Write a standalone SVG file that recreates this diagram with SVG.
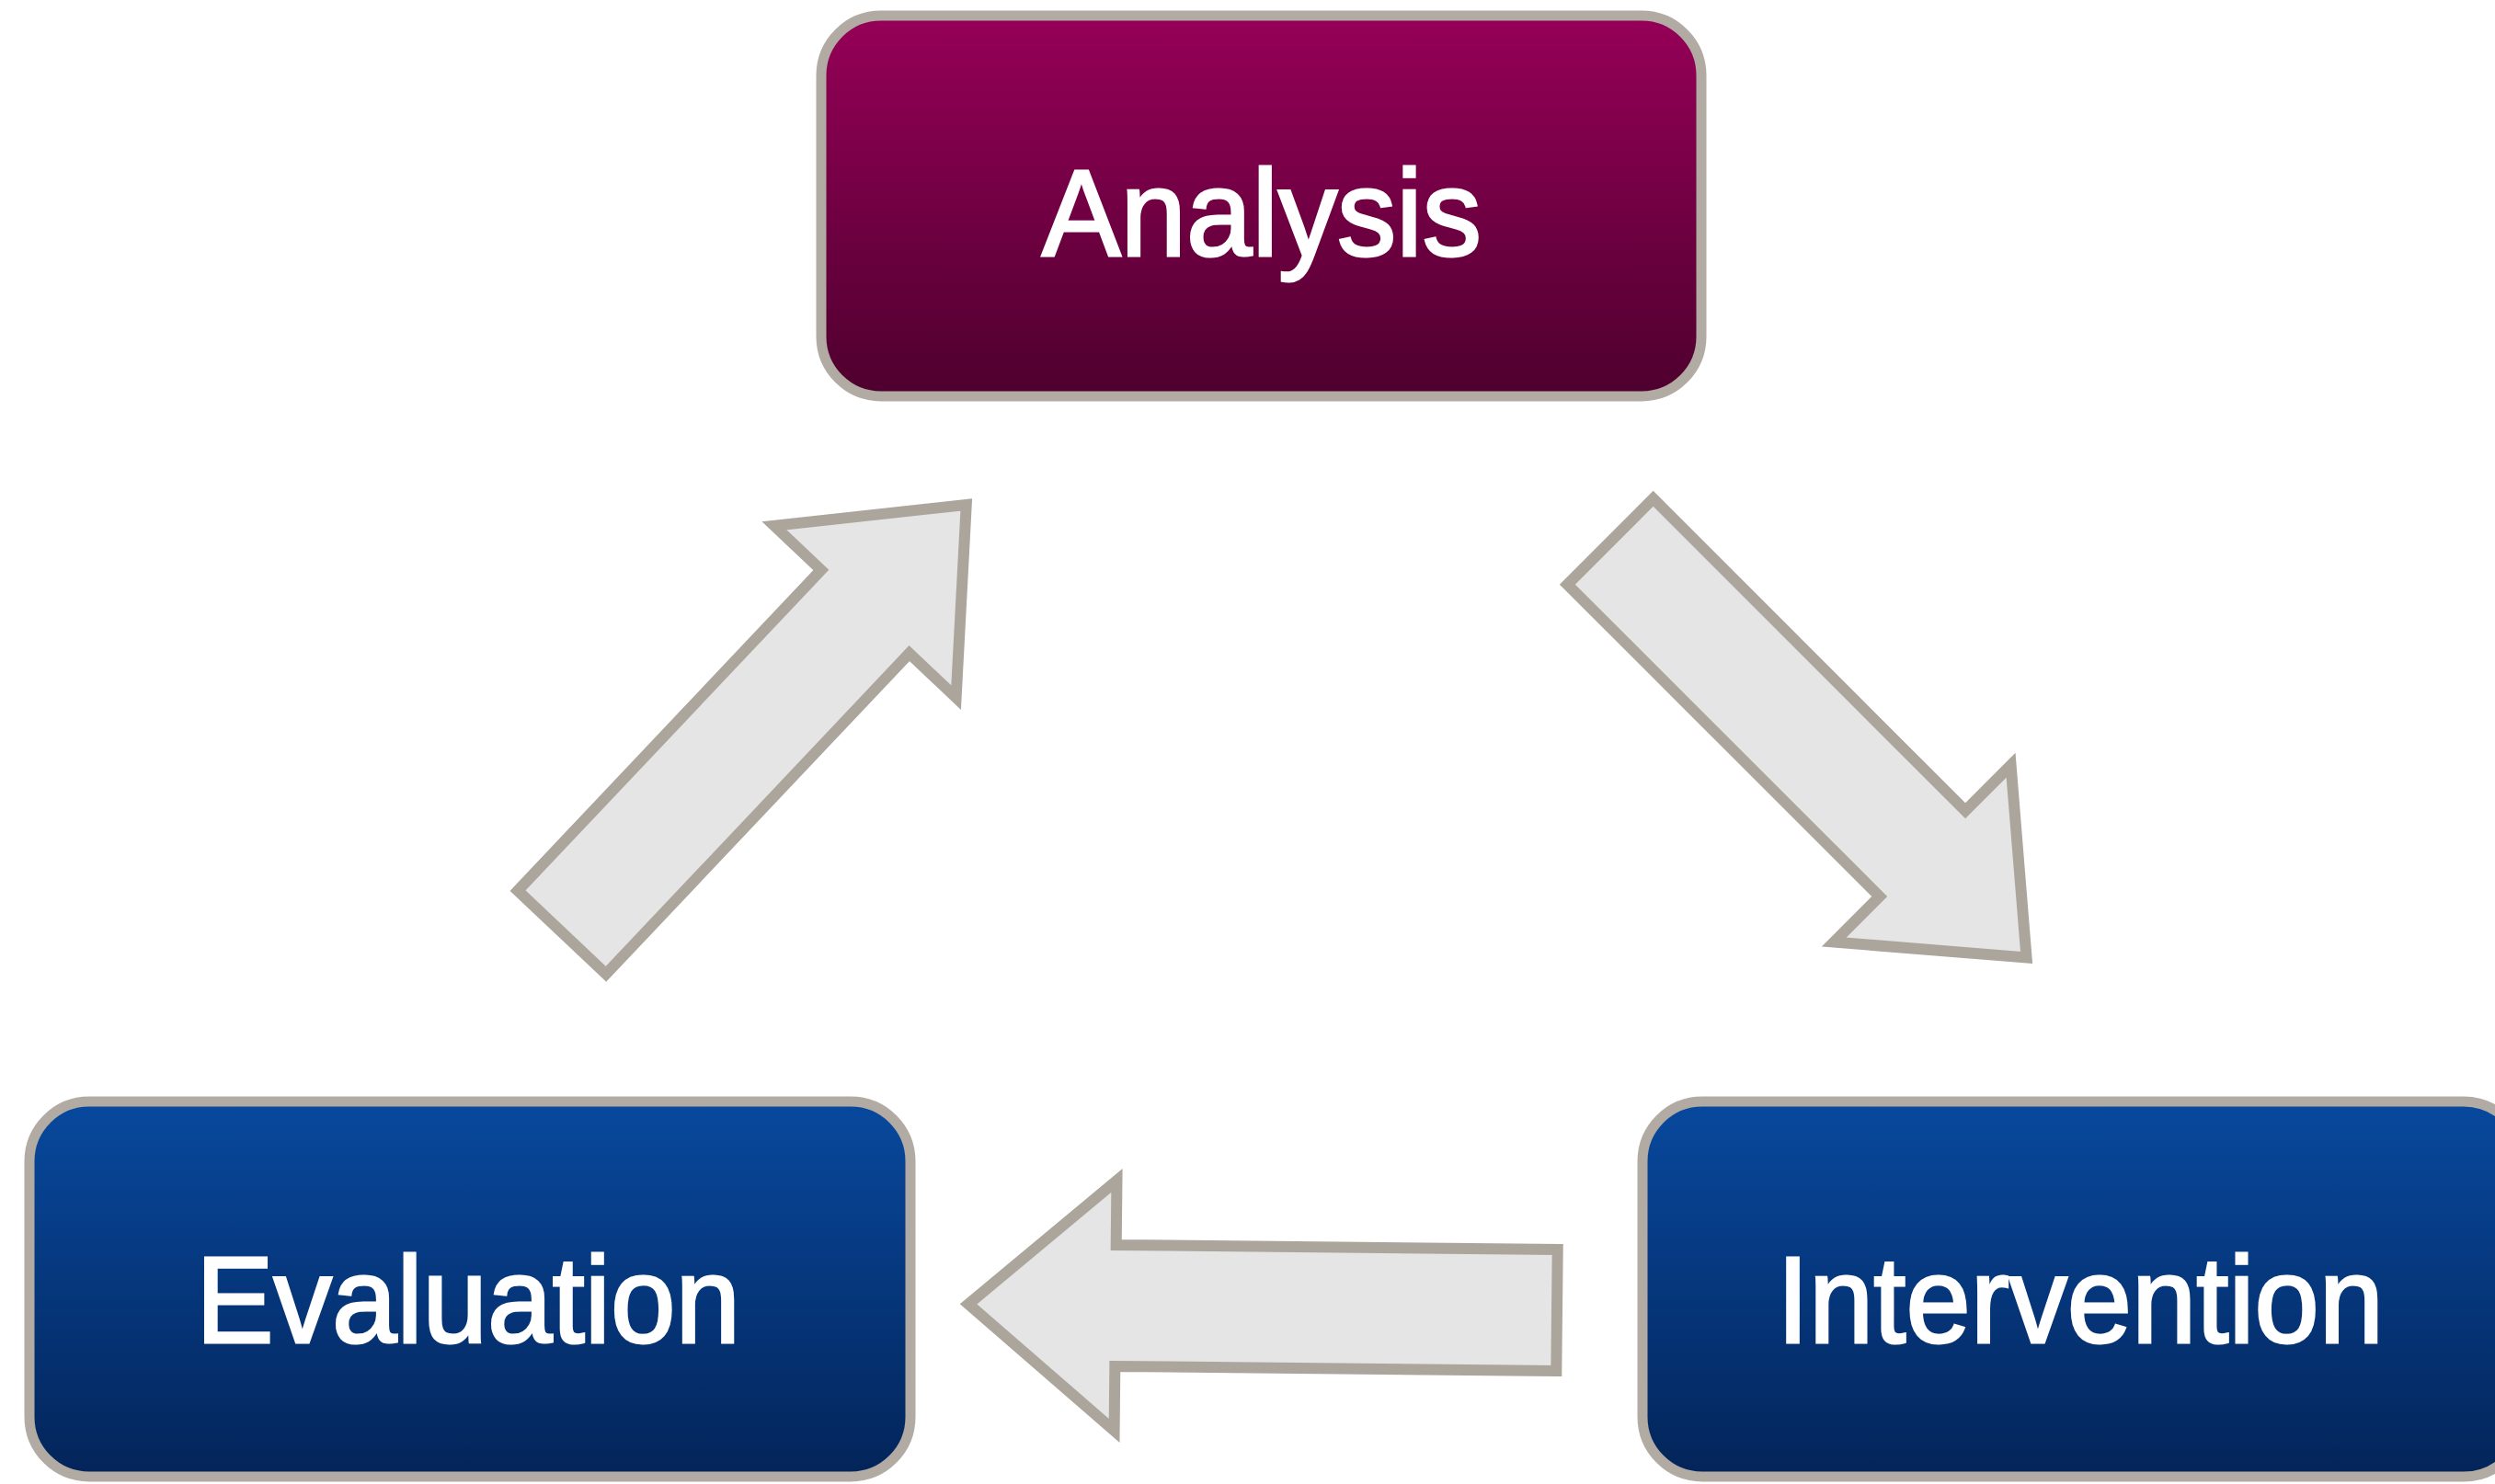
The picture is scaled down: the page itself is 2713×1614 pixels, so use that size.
<svg xmlns="http://www.w3.org/2000/svg" width="2713" height="1614" viewBox="0 0 2713 1614">
<defs>
<linearGradient id="gPurple" x1="0" y1="0" x2="0" y2="1">
<stop offset="0" stop-color="#960058"/>
<stop offset="1" stop-color="#4e002e"/>
</linearGradient>
<linearGradient id="gBlue" x1="0" y1="0" x2="0" y2="1">
<stop offset="0" stop-color="#08499e"/>
<stop offset="1" stop-color="#032459"/>
</linearGradient>
<path id="arr" d="M0,-66 L480,-66 L480,-136 L640,0 L480,136 L480,66 L0,66 Z"/>
</defs>
<style>
.box{stroke:#b2aba3;stroke-width:11}
.lbl{font-family:"Liberation Sans",Arial,sans-serif;font-size:134px;fill:#ffffff;stroke:#ffffff;stroke-width:3;text-anchor:middle}
.arrow{fill:#e5e5e6;stroke:#aca59c;stroke-width:12;stroke-linejoin:miter}
</style>
<rect x="0" y="0" width="2713" height="1614" fill="#ffffff"/>
<g id="connectors">
<use href="#arr" class="arrow" transform="translate(611,1014) rotate(-46.6)"/>
<use href="#arr" class="arrow" transform="translate(1751,589) rotate(45)"/>
<use href="#arr" class="arrow" transform="translate(1693,1425) rotate(180.6)"/>
</g>
<g id="analysis">
<rect class="box" x="893" y="17" width="957" height="414" rx="65" fill="url(#gPurple)"/>
<text class="lbl" x="1372" y="278" textLength="478" lengthAdjust="spacingAndGlyphs">Analysis</text>
</g>
<g id="evaluation">
<rect class="box" x="32" y="1198" width="958" height="408" rx="65" fill="url(#gBlue)"/>
<text class="lbl" x="509" y="1460" textLength="592" lengthAdjust="spacingAndGlyphs">Evaluation</text>
</g>
<g id="intervention">
<rect class="box" x="1786" y="1198" width="958" height="408" rx="65" fill="url(#gBlue)"/>
<text class="lbl" x="2262" y="1460" textLength="660" lengthAdjust="spacingAndGlyphs">Intervention</text>
</g>
</svg>
